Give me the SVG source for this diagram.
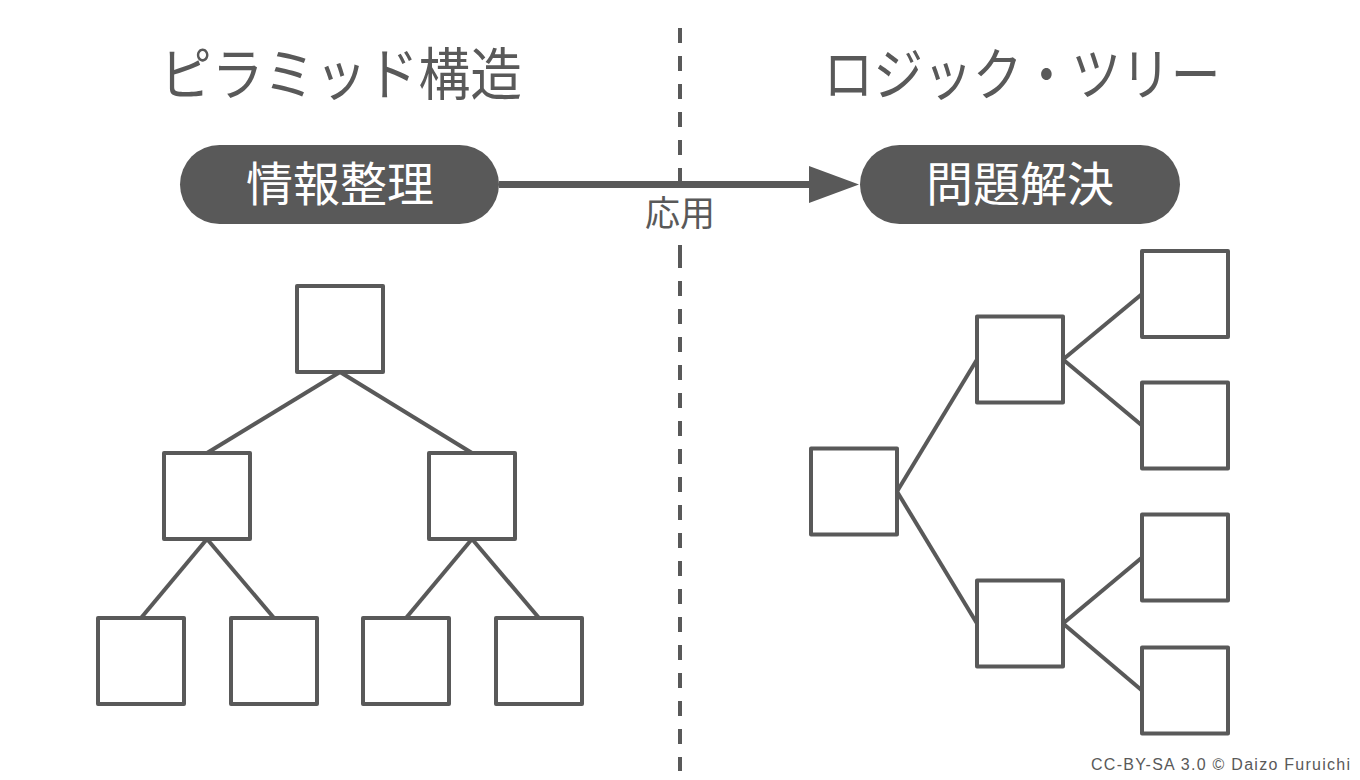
<svg xmlns="http://www.w3.org/2000/svg" width="1360" height="780" viewBox="0 0 1360 780">
<defs>
<style>
.box{fill:#fff;stroke:#595959;stroke-width:4;stroke-linejoin:round}
.edge{stroke:#595959;stroke-width:4;fill:none}
.dash{stroke:#595959;stroke-width:4;stroke-dasharray:15 13}
.title{font-family:"Noto Sans CJK JP","Noto Sans",sans-serif;font-size:57px;fill:#595959;text-anchor:middle}
.pill{fill:#595959}
.pilltext{font-family:"Noto Sans CJK JP","Noto Sans",sans-serif;font-size:47px;fill:#fff;text-anchor:middle}
.label{font-family:"Noto Sans CJK JP","Noto Sans",sans-serif;font-size:35px;fill:#595959;text-anchor:middle}
.foot{font-family:"Liberation Sans",Arial,sans-serif;font-size:16px;fill:#595959;text-anchor:end}
</style>
</defs>
<rect width="1360" height="780" fill="#fff"/>

<g id="divider">
<line class="dash" x1="680" y1="28" x2="680" y2="183"/>
<line x1="680" y1="245" x2="680" y2="268" stroke="#595959" stroke-width="4"/>
<line class="dash" x1="680" y1="281" x2="680" y2="771"/>
</g>

<g id="title-left"><text class="title" x="341" y="95" textLength="362" lengthAdjust="spacingAndGlyphs">ピラミッド構造</text></g>
<g id="title-right"><text class="title" x="1022" y="95" textLength="397" lengthAdjust="spacingAndGlyphs">ロジック・ツリー</text></g>

<g id="connectors">
<line x1="499" y1="184.5" x2="810" y2="184.5" stroke="#595959" stroke-width="7"/>
<path d="M809,166 L859,184.5 L809,203 Z" fill="#595959"/>
<line class="edge" x1="340" y1="372" x2="207" y2="453"/>
<line class="edge" x1="340" y1="372" x2="472" y2="453"/>
<line class="edge" x1="207" y1="539" x2="141" y2="618"/>
<line class="edge" x1="207" y1="539" x2="274" y2="618"/>
<line class="edge" x1="472" y1="539" x2="406" y2="618"/>
<line class="edge" x1="472" y1="539" x2="539" y2="618"/>
<line class="edge" x1="897" y1="491.5" x2="977" y2="359.5"/>
<line class="edge" x1="897" y1="491.5" x2="977" y2="623.5"/>
<line class="edge" x1="1063" y1="359.5" x2="1142" y2="294"/>
<line class="edge" x1="1063" y1="359.5" x2="1142" y2="425.5"/>
<line class="edge" x1="1063" y1="623.5" x2="1142" y2="557.5"/>
<line class="edge" x1="1063" y1="623.5" x2="1142" y2="690.5"/>
</g>

<g id="pill-left">
<rect class="pill" x="180" y="145" width="319" height="79" rx="39.5"/>
<text class="pilltext" x="340" y="201">情報整理</text>
</g>
<g id="pill-right">
<rect class="pill" x="860" y="145" width="320" height="79" rx="39.5"/>
<text class="pilltext" x="1020" y="201">問題解決</text>
</g>
<g id="label-apply"><text class="label" x="680" y="226">応用</text></g>

<g id="p-top"><rect class="box" x="297" y="286" width="86" height="86"/></g>
<g id="p-l"><rect class="box" x="164" y="453" width="86" height="86"/></g>
<g id="p-r"><rect class="box" x="429" y="453" width="86" height="86"/></g>
<g id="p-ll"><rect class="box" x="98" y="618" width="86" height="86"/></g>
<g id="p-lr"><rect class="box" x="231" y="618" width="86" height="86"/></g>
<g id="p-rl"><rect class="box" x="363" y="618" width="86" height="86"/></g>
<g id="p-rr"><rect class="box" x="496" y="618" width="86" height="86"/></g>

<g id="t-root"><rect class="box" x="811" y="448.5" width="86" height="86"/></g>
<g id="t-up"><rect class="box" x="977" y="316.5" width="86" height="86"/></g>
<g id="t-down"><rect class="box" x="977" y="580.5" width="86" height="86"/></g>
<g id="t-1"><rect class="box" x="1142" y="251" width="86" height="86"/></g>
<g id="t-2"><rect class="box" x="1142" y="382.5" width="86" height="86"/></g>
<g id="t-3"><rect class="box" x="1142" y="514.5" width="86" height="86"/></g>
<g id="t-4"><rect class="box" x="1142" y="647.5" width="86" height="86"/></g>

<g id="footer"><text class="foot" x="1350" y="770" textLength="259" lengthAdjust="spacing">CC-BY-SA 3.0 © Daizo Furuichi</text></g>
</svg>
